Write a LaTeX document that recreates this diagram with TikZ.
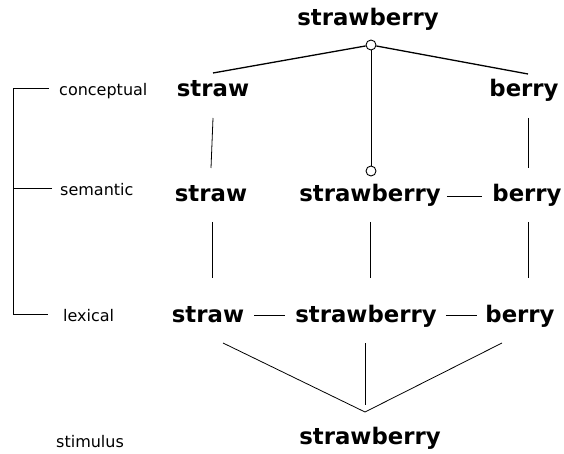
\documentclass[tikz,border=0pt]{standalone}
\usepackage{fontspec}
\setmainfont{DejaVu Sans}
\begin{document}
\begin{tikzpicture}[x=1pt,y=-1pt,
  word/.style={font=\bfseries\fontsize{22.8}{26}\selectfont, inner sep=0pt, anchor=base},
  lvl/.style={font=\fontsize{16}{19}\selectfont, inner sep=0pt, anchor=base west},
  conn/.style={line width=0.8pt},
  hconn/.style={line width=1.3pt},
  vconn/.style={line width=1.0pt},
  circ/.style={circle, draw, line width=0.9pt, minimum size=10pt, inner sep=0pt}]
\fill[white] (0,0) rectangle (564,454);
\useasboundingbox (0,0) rectangle (564,454);

% level labels
\node[lvl] (lcon) at (59,96) {conceptual};
\node[lvl] (lsem) at (60,196) {semantic};
\node[lvl] (llex) at (63,321) {lexical};
\node[lvl] (lsti) at (56,447) {stimulus};

% words
\node[word] (top) at (368,26) {strawberry};
\node[word] (cstraw) at (213,97) {straw};
\node[word] (cberry) at (524,97) {berry};
\node[word] (sstraw) at (211,202) {straw};
\node[word] (sstrawb) at (370,202) {strawberry};
\node[word] (sberry) at (527,202) {berry};
\node[word] (lstraw) at (208,322) {straw};
\node[word] (lstrawb) at (366,322) {strawberry};
\node[word] (lberry) at (520,322) {berry};
\node[word] (stim) at (370,444) {strawberry};

% circles
\node[circ] (c1) at (371,45) {};
\node[circ] (c2) at (371,171) {};
\coordinate (apex) at (365,412);

% bracket
\draw[conn] ([shift={(-10pt,8pt)}]lcon.base west) -- ++(-36,0) |- ([shift={(-15pt,7pt)}]llex.base west);
\draw[conn] ([shift={(-8pt,8pt)}]lsem.base west) -- ++(-39,0);

% conceptual links
\draw[hconn] ([yshift=24pt]cstraw.base) -- (c1);
\draw[hconn] (c1) -- ([shift={(4pt,23pt)}]cberry.base);
\draw[vconn] (c1) -- (c2);

% conceptual to semantic
\draw[conn] ([yshift=-21pt]cstraw.base) -- ([yshift=34pt]sstraw.base);
\draw[conn] ([shift={(4pt,-21pt)}]cberry.base) -- ([shift={(1pt,34pt)}]sberry.base);

% semantic to lexical
\draw[conn] ([shift={(1pt,-20pt)}]sstraw.base) -- ([shift={(4pt,44pt)}]lstraw.base);
\draw[conn] ([yshift=-20pt]sstrawb.base) -- ([shift={(4pt,44pt)}]lstrawb.base);
\draw[conn] ([shift={(1pt,-20pt)}]sberry.base) -- ([shift={(8pt,44pt)}]lberry.base);

% horizontal links
\draw[conn] ([shift={(6pt,6pt)}]sstrawb.base east) -- ([shift={(-10pt,6pt)}]sberry.base west);
\draw[conn] ([shift={(10pt,7pt)}]lstraw.base east) -- ([shift={(-10pt,7pt)}]lstrawb.base west);
\draw[conn] ([shift={(9pt,7pt)}]lstrawb.base east) -- ([shift={(-8pt,7pt)}]lberry.base west);

% stimulus V
\draw[conn] ([shift={(15pt,-21pt)}]lstraw.base) -- (apex) -- ([shift={(-18pt,-21pt)}]lberry.base);
\draw[conn] ([shift={(-1pt,-21pt)}]lstrawb.base) -- ([yshift=7pt]apex);
\end{tikzpicture}
\end{document}
